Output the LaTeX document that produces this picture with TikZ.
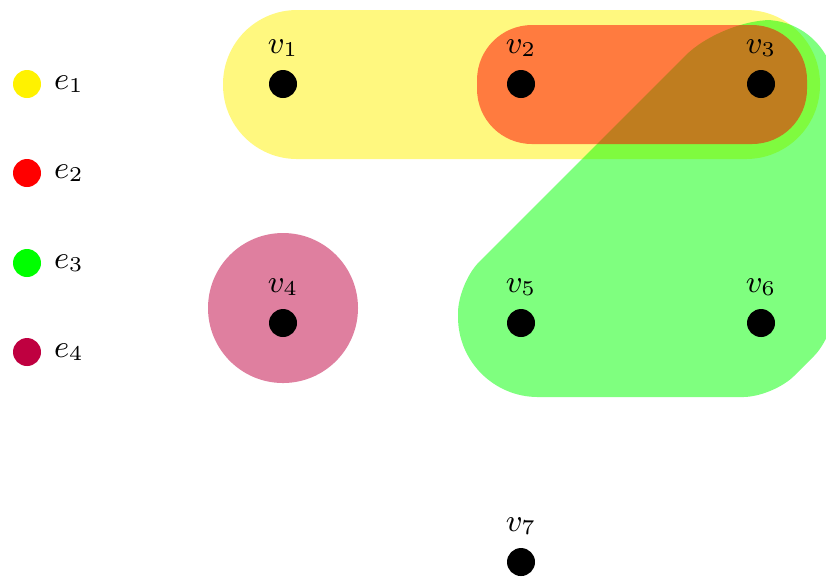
\documentclass[tikz,border=0pt]{standalone}
\usepackage{amsmath,amssymb}
\usepackage{xcolor}
\usepackage{tikz}
\usetikzlibrary{
  positioning,
  calc,
  backgrounds
}
\tikzset{
  vertex/.style  = {circle, fill=black, minimum size=0.28cm, inner sep=0pt},
  legdot/.style  = {circle, minimum size=0.28cm, inner sep=0pt},
  hedge/.style   = {fill opacity=0.5, draw=none},
}

\begin{document}
\begin{tikzpicture}[every label/.append style={font=\small}]

    \useasboundingbox (0,0) rectangle (8.26,-5.76);

    % Vertices
    \foreach \i/\x/\y in {1/2.83/-0.84, 2/5.21/-0.84, 3/7.61/-0.84,
                          4/2.83/-3.23, 5/5.21/-3.23, 6/7.61/-3.23,
                          7/5.21/-5.62} {
        \node[vertex, label=above:$v_{\i}$] (v\i) at (\x,\y) {};
    }

    % Legend of hyperedges
    \foreach \i/\c/\y in {1/yellow/-0.84, 2/red/-1.73, 3/green/-2.63, 4/purple/-3.52} {
        \node[legdot, fill=\c, label=right:$e_{\i}$] (e\i) at (0.27,\y) {};
    }

    \begin{scope}[on background layer]
        % e1 = {v1, v2, v3}
        \fill[hedge, yellow, rounded corners=0.74cm]
            ([xshift=-0.60cm, yshift=0.74cm]v1.center)
            rectangle
            ([xshift=0.59cm, yshift=-0.75cm]v3.center);

        % e3 = {v3, v5, v6}
        \fill[hedge, green]
            ([xshift=1.2cm, yshift=-0.74cm]v5.center)
            [rounded corners=0.3cm] -- ([xshift=0.12cm, yshift=-0.74cm]v6.center)
            [rounded corners=0.3cm] -- ([xshift=0.74cm, yshift=-0.12cm]v6.center)
            [rounded corners=0.7cm] -- ([xshift=0.74cm, yshift=0.64cm]v3.center)
            [rounded corners=0.5cm] -- ([xshift=-0.40cm, yshift=0.64cm]v3.center)
            [rounded corners=0.3cm] -- ([xshift=-0.63cm, yshift=0.40cm]v5.center)
            [rounded corners=0.8cm] -- ([xshift=-0.63cm, yshift=-0.74cm]v5.center)
            -- cycle;

        % e2 = {v2, v3}
        \fill[hedge, red, rounded corners=0.55cm]
            ([xshift=-0.44cm, yshift=0.59cm]v2.center)
            rectangle
            ([xshift=0.46cm, yshift=-0.60cm]v3.center);

        % e4 = {v4}
        \fill[hedge, purple] ([yshift=0.15cm]v4.center) circle (0.75cm);
    \end{scope}

\end{tikzpicture}
\end{document}
